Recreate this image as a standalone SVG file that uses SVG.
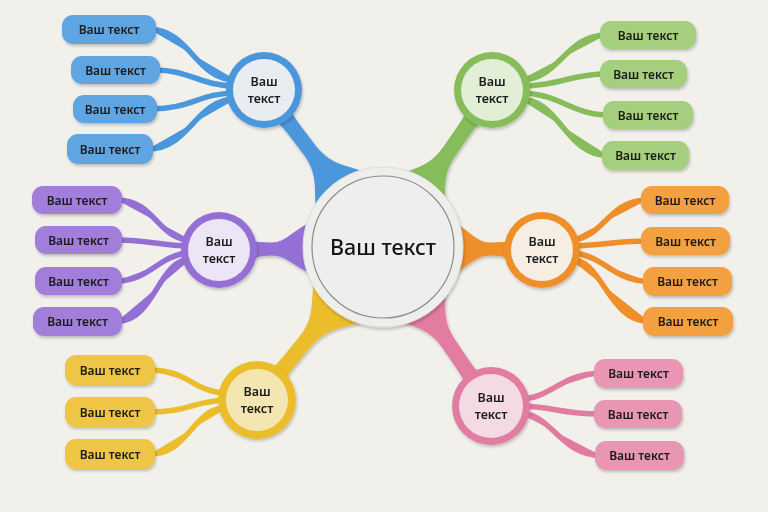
<svg xmlns="http://www.w3.org/2000/svg" width="768" height="512" viewBox="0 0 768 512">
<defs>
<filter id="sh" x="-20%" y="-20%" width="140%" height="150%">
<feDropShadow dx="1" dy="2" stdDeviation="1.4" flood-color="#000" flood-opacity="0.22"/>
</filter>
<path id="stem" d="M20,-11 Q35,-7 50,-7 L75,-7 C100,-7 110,-20 126,-30 L126,30 C110,20 100,7 75,7 L50,7 Q35,7 20,11 Z"/>
</defs>
<style>
.t{font-family:"Noto Sans","Liberation Sans",sans-serif;fill:#1c1c1c;text-anchor:middle;font-weight:600}
.p{font-size:12px}
.h{font-size:12.5px}
.c{font-size:21.5px;font-weight:500;fill:#161616}
.ln{fill:none;stroke-width:5.5;stroke-linecap:round}
.blue{fill:#4b97dc;stroke:#4b97dc}
.green{fill:#86bd5a;stroke:#86bd5a}
.purple{fill:#9470d4;stroke:#9470d4}
.orange{fill:#ef8f2a;stroke:#ef8f2a}
.yellow{fill:#ebbd2c;stroke:#ebbd2c}
.pink{fill:#e27ba0;stroke:#e27ba0}
.pill{filter:url(#sh)}
</style>
<rect width="768" height="512" fill="#f2f0eb"/>

<g id="connectors">
<g filter="url(#sh)">
<use href="#stem" class="blue" stroke="none" transform="translate(264,90) rotate(52.8)"/>
<use href="#stem" class="green" stroke="none" transform="translate(492,90) rotate(124.8)"/>
<use href="#stem" class="yellow" stroke="none" transform="translate(257,400) rotate(-50.5)"/>
<use href="#stem" class="pink" stroke="none" transform="translate(491,406) rotate(-124.2)"/>
<path class="purple" stroke="none" d="M245,241 Q262,243 272,243 C285,243 292,232 308,224 L308,272 C292,264 285,255 272,255 Q262,255 245,259 Z"/>
<path class="orange" stroke="none" d="M517,241 Q500,243 490,243 C477,243 470,232 456,224 L456,272 C470,264 477,255 490,255 Q500,255 517,259 Z"/>
</g>
<g class="ln">
<path class="blue" fill="none" d="M150,29.5 C190,29.5 195,80 236,80"/>
<path class="blue" fill="none" d="M155,70 C190,70 200,86 236,86"/>
<path class="blue" fill="none" d="M152,109 C190,109 200,93 236,93"/>
<path class="blue" fill="none" d="M148,149 C190,149 195,99 236,99"/>
<path class="green" fill="none" d="M606,35 C565,35 560,80 520,80"/>
<path class="green" fill="none" d="M606,74 C570,74 560,86 520,86"/>
<path class="green" fill="none" d="M609,115 C570,115 560,93 520,93"/>
<path class="green" fill="none" d="M608,155.5 C565,155.5 560,99 520,99"/>
<path class="purple" fill="none" d="M117,200 C155,200 158,240 191,240"/>
<path class="purple" fill="none" d="M117,240 C150,240 160,246 191,246"/>
<path class="purple" fill="none" d="M117,281 C150,281 160,253 191,253"/>
<path class="purple" fill="none" d="M117,321.5 C155,321.5 158,259 191,259"/>
<path class="orange" fill="none" d="M647,200 C608,200 603,240 570,240"/>
<path class="orange" fill="none" d="M647,241 C612,241 603,246 570,246"/>
<path class="orange" fill="none" d="M649,281.5 C612,281.5 603,253 570,253"/>
<path class="orange" fill="none" d="M649,321.5 C608,321.5 603,259 570,259"/>
<path class="yellow" fill="none" d="M150,370 C190,370 192,393 229,393"/>
<path class="yellow" fill="none" d="M150,412 C190,412 195,400 229,400"/>
<path class="yellow" fill="none" d="M150,454 C190,454 192,407 229,407"/>
<path class="pink" fill="none" d="M600,373.5 C560,373.5 552,399 519,399"/>
<path class="pink" fill="none" d="M600,414 C560,414 552,406 519,406"/>
<path class="pink" fill="none" d="M601,455.5 C560,455.5 552,413 519,413"/>
</g>
</g>

<g id="center">
<circle cx="383" cy="247" r="80" fill="#eeeeec" stroke="#dddcd8" stroke-width="1" filter="url(#sh)"/>
<circle cx="383" cy="247" r="71" fill="none" stroke="#8c8c8c" stroke-width="1.2"/>
<text class="t c" x="383" y="255">Ваш текст</text>
</g>

<g id="hub-blue">
<circle cx="264" cy="90" r="38" fill="#4b97dc" filter="url(#sh)"/>
<circle cx="264" cy="90" r="31" fill="#e8edf2"/>
<text class="t h" x="264" y="86">Ваш</text><text class="t h" x="264" y="103">текст</text>
</g>
<g id="hub-green">
<circle cx="492" cy="90" r="38" fill="#86bd5a" filter="url(#sh)"/>
<circle cx="492" cy="90" r="31" fill="#e2eed6"/>
<text class="t h" x="492" y="86">Ваш</text><text class="t h" x="492" y="103">текст</text>
</g>
<g id="hub-purple">
<circle cx="219" cy="250" r="38" fill="#9470d4" filter="url(#sh)"/>
<circle cx="219" cy="250" r="31" fill="#ece5f5"/>
<text class="t h" x="219" y="246">Ваш</text><text class="t h" x="219" y="263">текст</text>
</g>
<g id="hub-orange">
<circle cx="542" cy="250" r="38" fill="#ef8f2a" filter="url(#sh)"/>
<circle cx="542" cy="250" r="31" fill="#f6eee3"/>
<text class="t h" x="542" y="246">Ваш</text><text class="t h" x="542" y="263">текст</text>
</g>
<g id="hub-yellow">
<circle cx="257" cy="400" r="39" fill="#ebbd2c" filter="url(#sh)"/>
<circle cx="257" cy="400" r="31" fill="#f4e6b2"/>
<text class="t h" x="257" y="396">Ваш</text><text class="t h" x="257" y="413">текст</text>
</g>
<g id="hub-pink">
<circle cx="491" cy="406" r="39" fill="#e27ba0" filter="url(#sh)"/>
<circle cx="491" cy="406" r="32" fill="#f4dbe3"/>
<text class="t h" x="491" y="402">Ваш</text><text class="t h" x="491" y="419">текст</text>
</g>

<g id="b1" class="pill"><rect x="62" y="15" width="94" height="29" rx="11" fill="#5fa5e2"/><text class="t p" x="109" y="34">Ваш текст</text></g>
<g id="b2" class="pill"><rect x="71" y="56" width="89" height="28" rx="11" fill="#5fa5e2"/><text class="t p" x="115.5" y="74.5">Ваш текст</text></g>
<g id="b3" class="pill"><rect x="73" y="95" width="84" height="28" rx="11" fill="#5fa5e2"/><text class="t p" x="115" y="113.5">Ваш текст</text></g>
<g id="b4" class="pill"><rect x="67" y="134" width="86" height="30" rx="11" fill="#5fa5e2"/><text class="t p" x="110" y="153.5">Ваш текст</text></g>

<g id="g1" class="pill"><rect x="600" y="21" width="96" height="28" rx="11" fill="#a5cf7f"/><text class="t p" x="648" y="39.5">Ваш текст</text></g>
<g id="g2" class="pill"><rect x="600" y="60" width="87" height="28" rx="11" fill="#a5cf7f"/><text class="t p" x="643.5" y="78.5">Ваш текст</text></g>
<g id="g3" class="pill"><rect x="603" y="101" width="90" height="28" rx="11" fill="#a5cf7f"/><text class="t p" x="648" y="119.5">Ваш текст</text></g>
<g id="g4" class="pill"><rect x="602" y="141" width="87" height="29" rx="11" fill="#a5cf7f"/><text class="t p" x="645.5" y="160">Ваш текст</text></g>

<g id="p1" class="pill"><rect x="32" y="186" width="90" height="28" rx="11" fill="#a07ed9"/><text class="t p" x="77" y="204.5">Ваш текст</text></g>
<g id="p2" class="pill"><rect x="35" y="226" width="87" height="28" rx="11" fill="#a07ed9"/><text class="t p" x="78.5" y="244.5">Ваш текст</text></g>
<g id="p3" class="pill"><rect x="35" y="267" width="87" height="28" rx="11" fill="#a07ed9"/><text class="t p" x="78.5" y="285.5">Ваш текст</text></g>
<g id="p4" class="pill"><rect x="33" y="307" width="89" height="29" rx="11" fill="#a07ed9"/><text class="t p" x="77.5" y="326">Ваш текст</text></g>

<g id="o1" class="pill"><rect x="641" y="186" width="88" height="28" rx="11" fill="#f2a040"/><text class="t p" x="685" y="204.5">Ваш текст</text></g>
<g id="o2" class="pill"><rect x="641" y="227" width="89" height="28" rx="11" fill="#f2a040"/><text class="t p" x="685.5" y="245.5">Ваш текст</text></g>
<g id="o3" class="pill"><rect x="643" y="267" width="89" height="29" rx="11" fill="#f2a040"/><text class="t p" x="687.5" y="286">Ваш текст</text></g>
<g id="o4" class="pill"><rect x="643" y="307" width="90" height="29" rx="11" fill="#f2a040"/><text class="t p" x="688" y="326">Ваш текст</text></g>

<g id="y1" class="pill"><rect x="65" y="355" width="90" height="30" rx="11" fill="#efc545"/><text class="t p" x="110" y="374.5">Ваш текст</text></g>
<g id="y2" class="pill"><rect x="65" y="397" width="90" height="30" rx="11" fill="#efc545"/><text class="t p" x="110" y="416.5">Ваш текст</text></g>
<g id="y3" class="pill"><rect x="65" y="439" width="90" height="30" rx="11" fill="#efc545"/><text class="t p" x="110" y="458.5">Ваш текст</text></g>

<g id="k1" class="pill"><rect x="594" y="359" width="89" height="29" rx="11" fill="#e996b4"/><text class="t p" x="638.5" y="378">Ваш текст</text></g>
<g id="k2" class="pill"><rect x="594" y="400" width="88" height="28" rx="11" fill="#e996b4"/><text class="t p" x="638" y="418.5">Ваш текст</text></g>
<g id="k3" class="pill"><rect x="595" y="441" width="89" height="29" rx="11" fill="#e996b4"/><text class="t p" x="639.5" y="460">Ваш текст</text></g>
</svg>
